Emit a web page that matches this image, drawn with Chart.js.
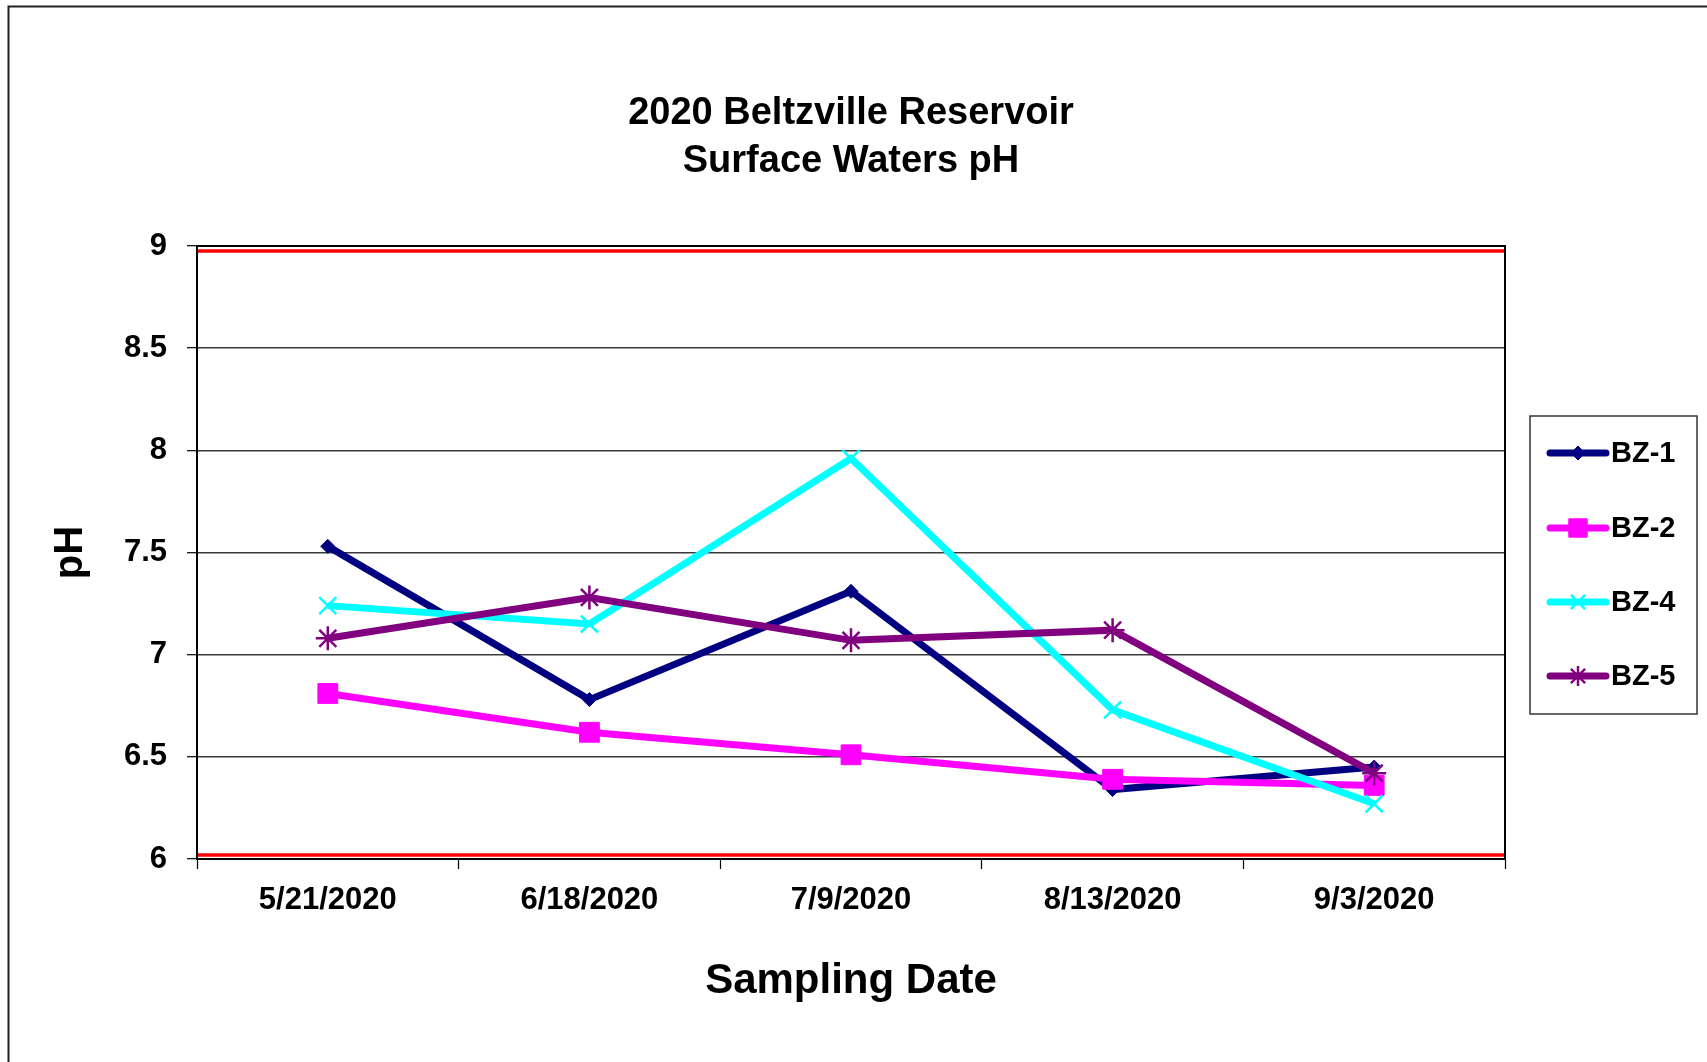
<!DOCTYPE html>
<html>
<head>
<meta charset="utf-8">
<title>2020 Beltzville Reservoir Surface Waters pH</title>
<script src="https://cdn.jsdelivr.net/npm/chart.js@4/dist/chart.umd.min.js"></script>
<style>
  html, body { margin: 0; padding: 0; background: #ffffff; }
  #wrap { position: relative; width: 1707px; height: 1062px; }
</style>
</head>
<body>
<div id="wrap"><canvas id="chart" width="1707" height="1062"></canvas></div>
<script>
// Sampling dates (category axis)
const samplingDates = ['5/21/2020', '6/18/2020', '7/9/2020', '8/13/2020', '9/3/2020'];

// pH readings per station
const bz1 = [7.53, 6.78, 7.31, 6.34, 6.45];
const bz2 = [6.81, 6.62, 6.51, 6.39, 6.36];
const bz4 = [7.24, 7.15, 7.96, 6.73, 6.27];
const bz5 = [7.08, 7.28, 7.07, 7.12, 6.42];

// Station names
const stationNames = ['BZ-1', 'BZ-2', 'BZ-4', 'BZ-5'];

// Y axis tick values and the acceptable pH limits
const phTicks = [6, 6.5, 7, 7.5, 8, 8.5, 9];
const phLimits = [6, 9];

const FONT = '"Liberation Sans", Arial, Helvetica, sans-serif';

const seriesStyle = [
  { color: '#000080', pointStyle: 'rectRot', radius: 7,  border: 1 },
  { color: '#FF00FF', pointStyle: 'rect',    radius: 14, border: 1 },
  { color: '#00FFFF', pointStyle: 'crossRot', radius: 12, border: 2.5 },
  { color: '#800080', pointStyle: 'star',    radius: 12, border: 2.5 }
];

const seriesData = [bz1, bz2, bz4, bz5];

const datasets = seriesData.map((values, i) => ({
  label: stationNames[i],
  data: values,
  borderColor: seriesStyle[i].color,
  backgroundColor: seriesStyle[i].color,
  borderWidth: 7,
  pointStyle: seriesStyle[i].pointStyle,
  pointRadius: seriesStyle[i].radius,
  pointHoverRadius: seriesStyle[i].radius,
  pointBorderWidth: seriesStyle[i].border,
  pointBorderColor: seriesStyle[i].color,
  pointBackgroundColor: seriesStyle[i].color,
  tension: 0,
  clip: false,
  // later stations are painted over earlier ones
  order: seriesData.length - i
}));

// Outer frame, limit lines, plot border, chart title and legend
const decorations = {
  id: 'decorations',
  beforeDraw(chart) {
    const ctx = chart.ctx;
    ctx.save();
    ctx.fillStyle = '#ffffff';
    ctx.fillRect(0, 0, chart.width, chart.height);
    ctx.strokeStyle = '#222222';
    ctx.lineWidth = 2;
    ctx.beginPath();
    ctx.moveTo(8.5, chart.height + 5);
    ctx.lineTo(8.5, 6.5);
    ctx.lineTo(chart.width + 5, 6.5);
    ctx.stroke();

    // title
    const cx = (chart.chartArea.left + chart.chartArea.right) / 2;
    ctx.fillStyle = '#000000';
    ctx.font = 'bold 38px ' + FONT;
    ctx.textAlign = 'center';
    ctx.textBaseline = 'middle';
    ctx.fillText('2020 Beltzville Reservoir', cx, 114);
    ctx.fillText('Surface Waters pH', cx, 162);
    ctx.restore();
  },
  beforeDatasetsDraw(chart) {
    const { ctx, chartArea: a, scales: { y } } = chart;
    ctx.save();
    // limit lines, kept just inside the plot border
    ctx.strokeStyle = '#FF0000';
    ctx.lineWidth = 3.5;
    phLimits.forEach(v => {
      let py = y.getPixelForValue(v);
      py += (v >= y.max) ? 5 : -4;
      ctx.beginPath();
      ctx.moveTo(a.left, py);
      ctx.lineTo(a.right, py);
      ctx.stroke();
    });
    // plot border
    ctx.strokeStyle = '#000000';
    ctx.lineWidth = 2;
    ctx.strokeRect(a.left, a.top, a.right - a.left, a.bottom - a.top);
    ctx.restore();
  },
  afterDraw(chart) {
    const ctx = chart.ctx;
    const box = { left: 1530, top: 416, right: 1697, bottom: 714 };
    ctx.save();
    ctx.fillStyle = '#ffffff';
    ctx.fillRect(box.left, box.top, box.right - box.left, box.bottom - box.top);
    ctx.strokeStyle = '#333333';
    ctx.lineWidth = 1.5;
    ctx.strokeRect(box.left, box.top, box.right - box.left, box.bottom - box.top);
    const rows = [453, 528, 602, 676];
    chart.data.datasets.forEach((ds, i) => {
      const yy = rows[i];
      ctx.strokeStyle = ds.borderColor;
      ctx.lineWidth = 7;
      ctx.lineCap = 'round';
      ctx.beginPath();
      ctx.moveTo(1550, yy);
      ctx.lineTo(1606, yy);
      ctx.stroke();
      ctx.lineCap = 'butt';
      ctx.fillStyle = ds.pointBackgroundColor;
      ctx.strokeStyle = ds.pointBorderColor;
      ctx.lineWidth = ds.pointBorderWidth;
      const r = ds.pointStyle === 'rect' ? 13 : (ds.pointStyle === 'rectRot' ? 7 : 10);
      Chart.helpers.drawPoint(ctx, { pointStyle: ds.pointStyle, radius: r, rotation: 0, borderWidth: ds.pointBorderWidth }, 1578, yy);
      ctx.fillStyle = '#000000';
      ctx.font = 'bold 29px ' + FONT;
      ctx.textAlign = 'left';
      ctx.textBaseline = 'middle';
      ctx.fillText(ds.label, 1611, yy + 1);
    });
    ctx.restore();
  }
};

new Chart(document.getElementById('chart'), {
  type: 'line',
  data: { labels: samplingDates, datasets },
  options: {
    responsive: false,
    animation: false,
    devicePixelRatio: 1,
    layout: { padding: { top: 246, right: 202, bottom: 0, left: 0 } },
    plugins: {
      legend: { display: false },
      title: { display: false },
      tooltip: { enabled: false }
    },
    scales: {
      x: {
        type: 'category',
        offset: true,
        afterFit(scale) { scale.height = 203; },
        border: { display: true, color: '#000000', width: 2 },
        grid: {
          display: true,
          offset: true,
          drawOnChartArea: false,
          drawTicks: true,
          tickLength: 10,
          tickColor: '#000000',
          tickWidth: 1.2
        },
        ticks: {
          color: '#000000',
          padding: 13,
          maxRotation: 0,
          autoSkip: false,
          font: { family: FONT, size: 31, weight: 'bold' }
        },
        title: {
          display: true,
          text: 'Sampling Date',
          color: '#000000',
          font: { family: FONT, size: 42, weight: 'bold' },
          padding: { top: 0, bottom: 55 }
        }
      },
      y: {
        min: 6,
        max: 9,
        afterFit(scale) { scale.width = 197; },
        afterBuildTicks(scale) { scale.ticks = phTicks.map(v => ({ value: v })); },
        border: { display: true, color: '#000000', width: 2 },
        grid: {
          color: '#3a3a3a',
          lineWidth: 1.4,
          drawTicks: true,
          tickLength: 10,
          tickColor: '#000000',
          tickWidth: 1.2
        },
        ticks: {
          color: '#000000',
          padding: 20,
          font: { family: FONT, size: 31, weight: 'bold' },
          callback: v => String(v)
        },
        title: {
          display: true,
          text: 'pH',
          color: '#000000',
          font: { family: FONT, size: 40, weight: 'bold' },
          padding: { top: 47, bottom: 0 }
        }
      }
    }
  },
  plugins: [decorations]
});
</script>
</body>
</html>
